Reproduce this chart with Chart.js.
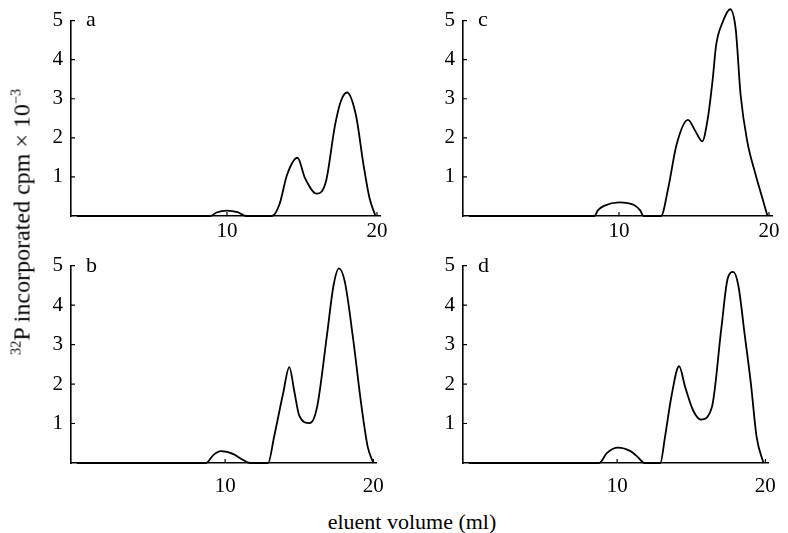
<!DOCTYPE html>
<html>
<head>
<meta charset="utf-8">
<script src="https://cdn.jsdelivr.net/npm/chart.js@4/dist/chart.umd.min.js"></script>
<style>
  body { margin: 0; background: #fff; }
  #wrap { position: relative; width: 788px; height: 533px; font-family: "Liberation Serif", serif; color: #000; }
  #wrap canvas { position: absolute; }
  .letter { position: absolute; font-size: 22px; line-height: 22px; }
  #ytitle { position: absolute; left: 22px; top: 222px; font-size: 24px; white-space: nowrap;
            transform: translate(-50%, -50%) rotate(-90deg); }
  #xtitle { position: absolute; left: 412px; top: 522px; font-size: 22px; white-space: nowrap;
            transform: translate(-50%, -50%); }
  sup { font-size: 0.6em; vertical-align: 0.6em; line-height: 0; }
</style>
</head>
<body>
<div id="wrap">
  <canvas id="chart-a" width="374" height="250" style="left:21px;top:0px"></canvas>
  <canvas id="chart-c" width="374" height="250" style="left:413px;top:0px"></canvas>
  <canvas id="chart-b" width="374" height="252" style="left:21px;top:245px"></canvas>
  <canvas id="chart-d" width="374" height="252" style="left:413px;top:245px"></canvas>
  <div class="letter" style="left:86px;top:8px">a</div>
  <div class="letter" style="left:478px;top:8px">c</div>
  <div class="letter" style="left:86px;top:254px">b</div>
  <div class="letter" style="left:478px;top:254px">d</div>
  <div id="ytitle"><sup>32</sup>P incorporated cpm × 10<sup>−3</sup></div>
  <div id="xtitle">eluent volume (ml)</div>
</div>
<script>
// eluent volume (ml) and cpm x 10^-3 for each panel
const volA = [0, 8.9, 9.3, 10, 10.7, 11.3, 13.0, 13.5, 14.0, 14.7, 15.2, 16.0, 16.6, 17.2, 17.6, 18.0, 18.6, 19.1, 19.5, 19.9];
const cpmA = [0, 0, 0.09, 0.14, 0.1, 0, 0, 0.3, 1.05, 1.49, 0.97, 0.57, 0.89, 2.32, 2.95, 3.16, 2.57, 1.31, 0.46, 0];

const volB = [0, 8.7, 9.2, 9.7, 10.6, 11.1, 11.7, 12.9, 13.3, 13.9, 14.33, 14.66, 15.0, 15.7, 16.2, 16.87, 17.31, 17.68, 18.08, 18.63, 19.18, 19.62, 20.0];
const cpmB = [0, 0, 0.2, 0.3, 0.22, 0.1, 0, 0, 0.66, 1.74, 2.43, 1.83, 1.2, 1.01, 1.41, 3.24, 4.49, 4.93, 4.58, 3.16, 1.49, 0.41, 0];

const volC = [0, 8.36, 8.6, 9.0, 10.0, 11.0, 11.4, 11.64, 12.8, 13.29, 13.84, 14.6, 15.04, 15.55, 15.92, 16.25, 16.47, 16.9, 17.41, 17.78, 18.11, 18.55, 19.1, 19.54, 19.9];
const cpmC = [0, 0, 0.15, 0.26, 0.35, 0.28, 0.15, 0, 0, 0.73, 1.83, 2.46, 2.21, 1.91, 2.5, 3.51, 4.36, 4.95, 5.29, 4.78, 3.09, 1.91, 1.07, 0.48, 0];

const volD = [0, 8.8, 9.3, 10.06, 10.9, 11.4, 11.85, 12.91, 13.23, 13.65, 14.18, 14.6, 15.13, 15.65, 16.39, 17.03, 17.45, 17.83, 18.18, 18.61, 19.03, 19.41, 19.87];
const cpmD = [0, 0, 0.25, 0.39, 0.3, 0.15, 0, 0, 0.66, 1.66, 2.45, 1.91, 1.33, 1.1, 1.41, 3.41, 4.66, 4.84, 4.49, 3.24, 1.99, 0.66, 0];

const xTicks = [10, 20];
const yTicks = [1, 2, 3, 4, 5];

// small tick marks pointing into the plot
const innerTicks = {
  id: 'innerTicks',
  afterDraw(chart) {
    const ctx = chart.ctx, x = chart.scales.x, y = chart.scales.y;
    ctx.save();
    ctx.strokeStyle = '#000';
    ctx.lineWidth = 1.2;
    ctx.beginPath();
    xTicks.forEach(v => {
      const px = x.getPixelForValue(v);
      ctx.moveTo(px, y.bottom); ctx.lineTo(px, y.bottom - 4);
    });
    yTicks.forEach(v => {
      const py = y.getPixelForValue(v);
      ctx.moveTo(x.left, py); ctx.lineTo(x.left + 4, py);
    });
    ctx.stroke();
    ctx.restore();
  }
};

function makePanel(id, vols, cpms, xPad) {
  const ctx = document.getElementById(id).getContext('2d');
  return new Chart(ctx, {
    type: 'line',
    data: {
      datasets: [{
        data: vols.map((v, i) => ({ x: v, y: cpms[i] })),
        borderColor: '#000',
        borderWidth: 1.8,
        pointRadius: 0,
        fill: false,
        cubicInterpolationMode: 'monotone',
        clip: false
      }]
    },
    options: {
      responsive: false,
      animation: false,
      devicePixelRatio: 1,
      layout: { padding: { top: 19, right: 15, left: 0, bottom: 0 } },
      plugins: { legend: { display: false }, tooltip: { enabled: false } },
      scales: {
        x: {
          type: 'linear', min: -0.4, max: 20.2,
          grid: { display: false, drawTicks: false },
          border: { display: true, color: '#000', width: 1.6 },
          afterBuildTicks: s => { s.ticks = xTicks.map(v => ({ value: v })); },
          afterFit: s => { s.height = 34; },
          ticks: { color: '#000', padding: xPad, maxRotation: 0, autoSkip: false,
                   font: { family: 'Liberation Serif', size: 21 } }
        },
        y: {
          min: 0, max: 5,
          grid: { display: false, drawTicks: false },
          border: { display: true, color: '#000', width: 1.6 },
          afterBuildTicks: s => { s.ticks = yTicks.map(v => ({ value: v })); },
          afterFit: s => { s.width = 50; },
          ticks: { color: '#000', padding: 8,
                   font: { family: 'Liberation Serif', size: 21 } }
        }
      }
    },
    plugins: [innerTicks]
  });
}

makePanel('chart-a', volA, cpmA, 3);
makePanel('chart-c', volC, cpmC, 3);
makePanel('chart-b', volB, cpmB, 11);
makePanel('chart-d', volD, cpmD, 11);
</script>
</body>
</html>
